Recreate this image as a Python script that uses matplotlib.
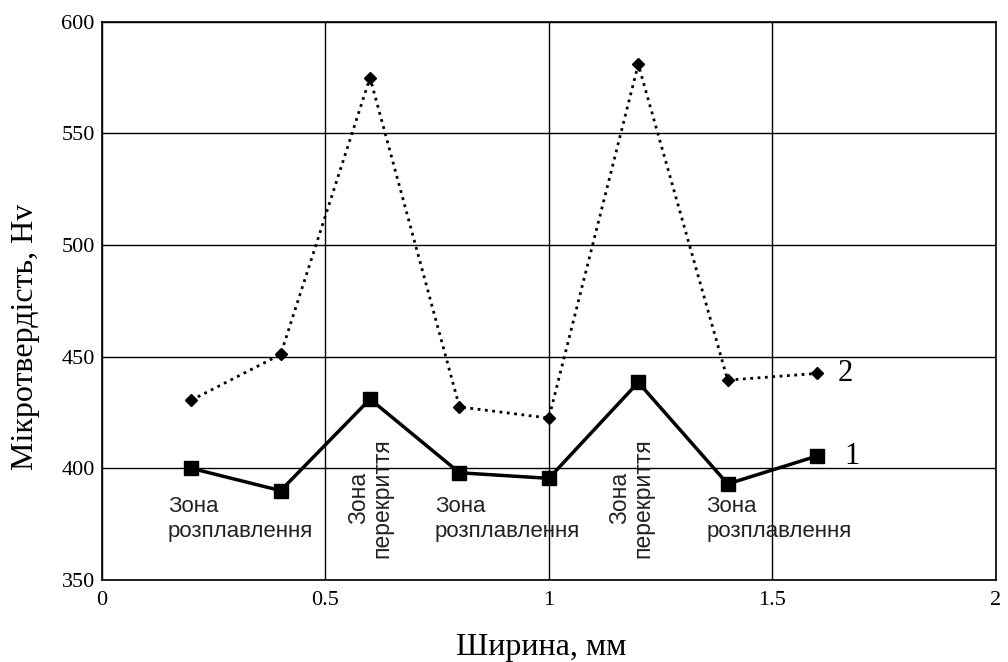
import matplotlib.pyplot as plt

plt.rcParams["font.family"] = ["Liberation Serif", "DejaVu Serif"]

# measured data
width_mm = [0.2, 0.4, 0.6, 0.8, 1.0, 1.2, 1.4, 1.6]
hv_1 = [400, 390, 431, 398, 395.5, 438.5, 393, 405.5]
hv_2 = [430.5, 451, 575, 427.5, 422.5, 581, 439.5, 442.5]

melt_label = "Зона\nрозплавлення"
overlap_label = "Зона\nперекриття"
melt_x = [0.148, 0.745, 1.353]
overlap_x = [0.6, 1.185]

fig = plt.figure(figsize=(10.08, 6.62), dpi=100)
ax = fig.add_axes([0.101, 0.124, 0.887, 0.843])

ax.plot(width_mm, hv_1, color="black", lw=2.5, marker="s", markersize=10)
ax.plot(width_mm, hv_2, color="black", lw=2, ls=":", marker="D", markersize=6)

ax.text(1.645, hv_2[-1], "2", fontsize=22, va="center", ha="left")
ax.text(1.66, hv_1[-1], "1", fontsize=22, va="center", ha="left")

for x in melt_x:
    ax.text(x, 387.5, melt_label, family=["Liberation Sans"], fontsize=16,
            color="#222222", ha="left", va="top", linespacing=1.25)
for x in overlap_x:
    ax.text(x, 360, overlap_label, family=["Liberation Sans"], fontsize=16.5,
            color="#222222", ha="center", va="bottom", rotation=90,
            linespacing=1.0)

ax.set_xlim(0, 2)
ax.set_ylim(350, 600)
ax.set_xticks([0, 0.5, 1, 1.5, 2])
ax.set_xticklabels(["0", "0.5", "1", "1.5", "2"])
ax.set_yticks([350, 400, 450, 500, 550, 600])
ax.grid(True, color="black", lw=1)
ax.tick_params(length=0, labelsize=16, pad=5)
ax.tick_params(axis="x", pad=8)
for s in ax.spines.values():
    s.set_linewidth(1.2)

ax.set_xlabel("Ширина, мм", fontsize=23)
ax.xaxis.set_label_coords(0.491, -0.134)
ax.xaxis.label.set_va("baseline")
ax.set_ylabel("Мікротвердість, Hv", fontsize=23)
ax.yaxis.set_label_coords(-0.085, 0.435)
ax.yaxis.label.set_va("center")

fig.savefig("out.png", dpi=100)
